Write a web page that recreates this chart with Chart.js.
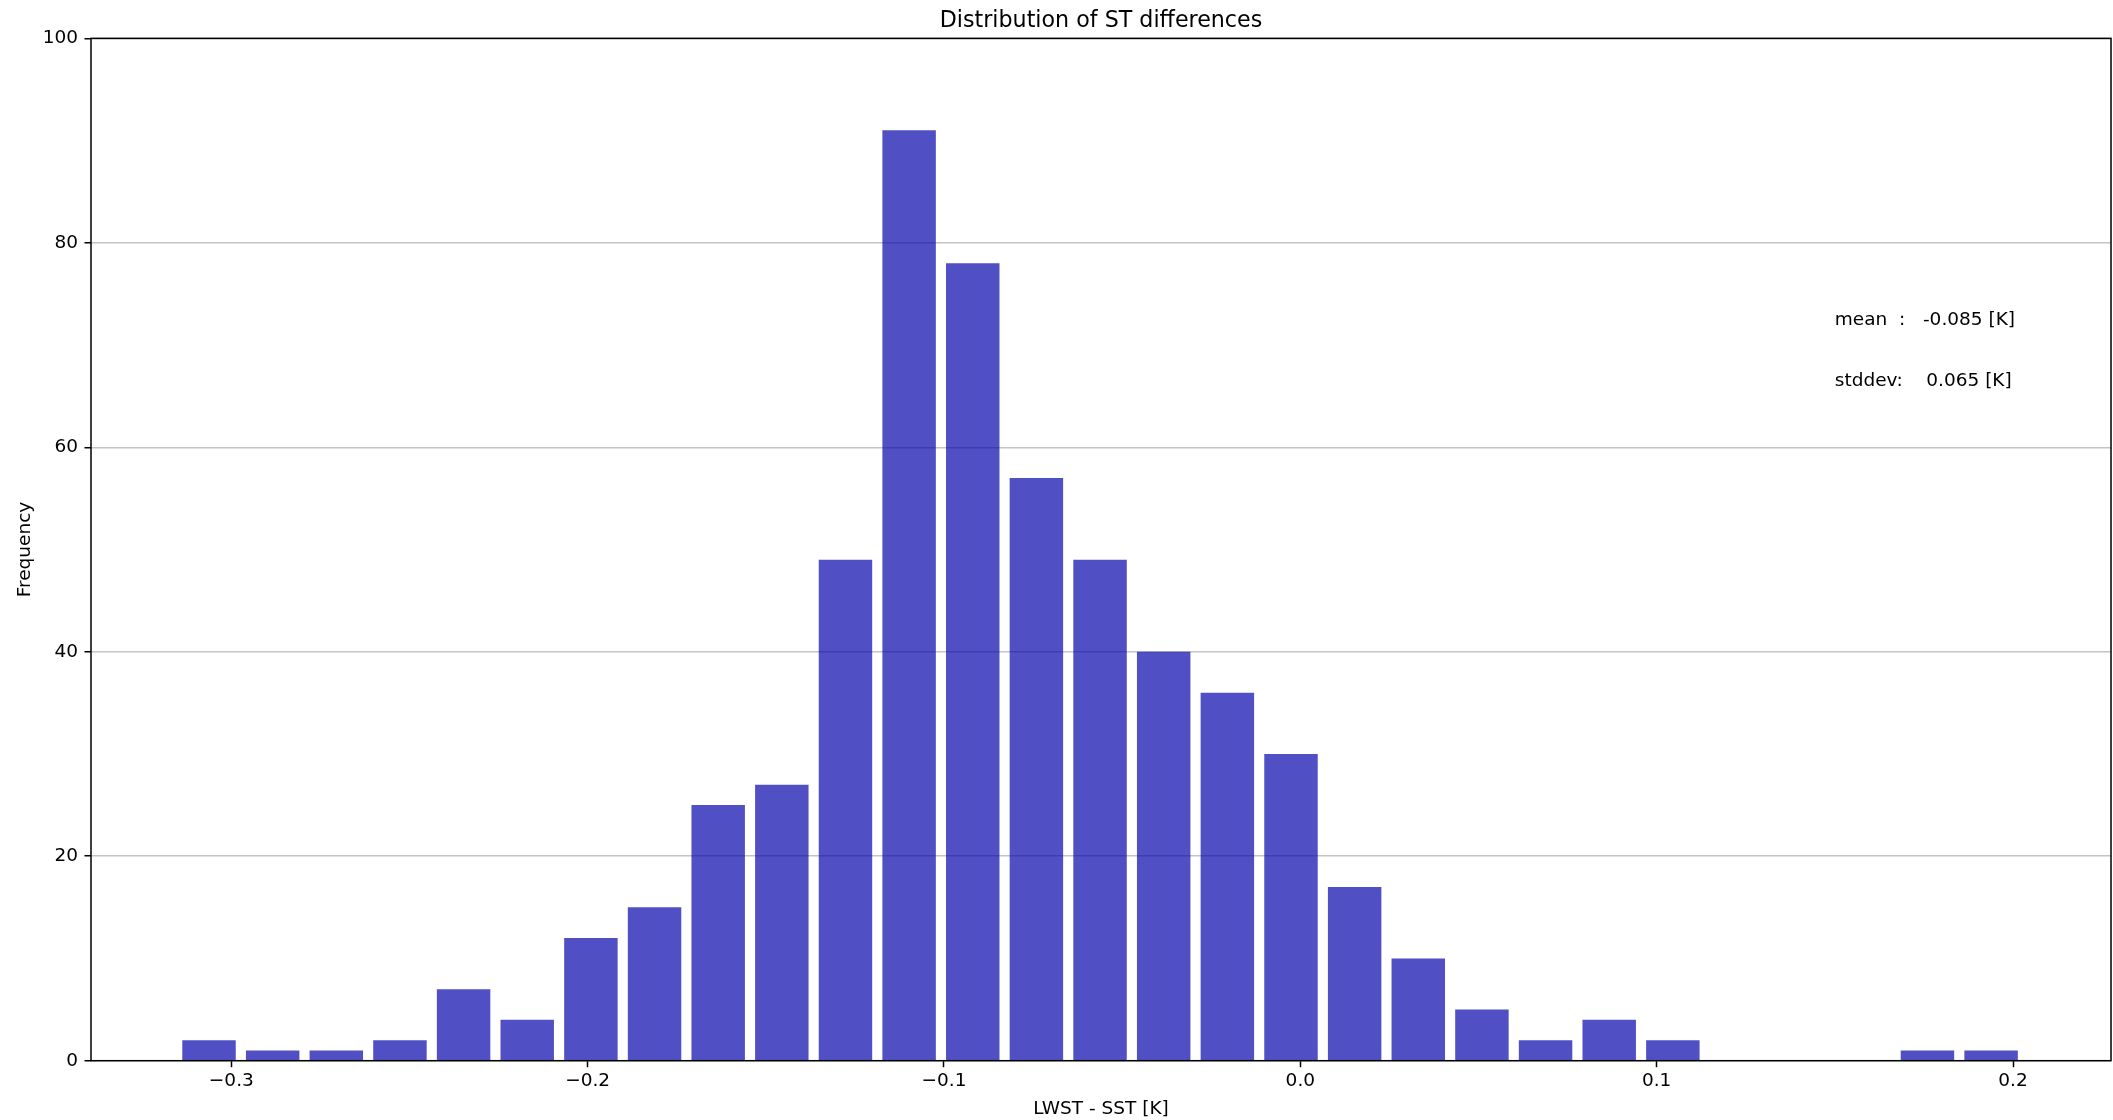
<!DOCTYPE html>
<html>
<head>
<meta charset="utf-8">
<title>Distribution of ST differences</title>
<script src="https://cdn.jsdelivr.net/npm/chart.js@4.4.1/dist/chart.umd.min.js"></script>
<style>
  html, body { margin:0; padding:0; background:#fff; }
  #c { display:block; }
</style>
</head>
<body>
<canvas id="c" width="2113" height="1120"></canvas>
<script>
/* Histogram of LWST - SST, rebuilt from the matplotlib figure. */

// bin centres [K] and counts per bin
const binCenters = [-0.30626, -0.28840, -0.27054, -0.25268, -0.23482, -0.21696, -0.19909, -0.18123,
                    -0.16337, -0.14551, -0.12765, -0.10979, -0.09193, -0.07407, -0.05621, -0.03835,
                    -0.02048, -0.00262, 0.01524, 0.03310, 0.05096, 0.06882, 0.08668, 0.10454,
                    0.12240, 0.14026, 0.15813, 0.17599, 0.19385];
const counts = [2, 1, 1, 2, 7, 4, 12, 15, 25, 27, 49, 91, 78, 57, 49, 40, 36, 30, 17, 10, 5, 2, 4, 2, 0, 0, 0, 1, 1];

const xTicks = [-0.3, -0.2, -0.1, 0.0, 0.1, 0.2];
const yTicks = [0, 20, 40, 60, 80, 100];

// text annotations, placed in data coordinates like plt.text()
const notes = [
  { x: 0.15, y: 72, text: "mean  :   -0.085 [K]" },
  { x: 0.15, y: 66, text: "stddev:    0.065 [K]" },
];

const FONT = "'DejaVu Sans', sans-serif";
const AREA = { left: 91, right: 2111, top: 38.3, bottom: 1060.7 };   // axes box in px

const fmtTick = v => Math.abs(v) < 1e-9 ? "0.0" : (v < 0 ? "\u2212" + (-v).toFixed(1) : v.toFixed(1));

/* ---------- plugins: axes box + annotations ---------- */
const frame = {
  id: "frame",
  afterDatasetsDraw(chart){
    const { ctx, chartArea: a, scales } = chart;
    ctx.save();
    ctx.font = "18.5px " + FONT;
    ctx.fillStyle = "#000";
    ctx.textAlign = "left";
    ctx.textBaseline = "alphabetic";
    for (const n of notes) ctx.fillText(n.text, scales.x.getPixelForValue(n.x), scales.y.getPixelForValue(n.y));
    ctx.strokeStyle = "#000";
    ctx.lineWidth = 1.5;
    ctx.strokeRect(a.left, a.top, a.right - a.left, a.bottom - a.top);
    ctx.restore();
  }
};

new Chart(document.getElementById("c"), {
  type: "bar",
  data: {
    datasets: [{
      data: binCenters.map((x, i) => ({ x, y: counts[i] })),
      backgroundColor: "rgba(5,4,170,0.7)",
      borderWidth: 0,
      inflateAmount: 0,
      barPercentage: 0.84,
      categoryPercentage: 1.0,
    }]
  },
  options: {
    responsive: false,
    animation: false,
    devicePixelRatio: 1,
    layout: { padding: { left: 0, right: 2113 - AREA.right, top: 0, bottom: 0 } },
    plugins: {
      legend: { display: false },
      tooltip: { enabled: false },
      title: {
        display: true, text: "Distribution of ST differences", fullSize: false,
        color: "#000", font: { family: FONT, size: 22.2, weight: "normal" },
        padding: { top: 8.2, bottom: 3.5 }
      }
    },
    scales: {
      x: {
        type: "linear", min: -0.33938, max: 0.2275, offset: false,
        afterBuildTicks: s => { s.ticks = xTicks.map(v => ({ value: v })); },
        afterFit: s => { s.height = 1120 - AREA.bottom; },
        grid: { display: true, drawOnChartArea: false, drawTicks: true, offset: false,
                tickLength: 6.5, tickColor: "#000", tickWidth: 1.5 },
        border: { display: false },
        ticks: { color: "#000", padding: 3, maxRotation: 0, font: { family: FONT, size: 18.5 },
                 callback: v => fmtTick(v) },
        title: { display: true, text: "LWST - SST [K]", color: "#000",
                 font: { family: FONT, size: 18.5 }, padding: { top: 0, bottom: 0 } }
      },
      y: {
        min: 0, max: 100,
        afterBuildTicks: s => { s.ticks = yTicks.map(v => ({ value: v })); },
        afterFit: s => { s.width = AREA.left; },
        grid: { color: "rgba(176,176,176,0.75)", lineWidth: 1.5, drawTicks: true,
                tickLength: 6.5, tickColor: "#000", tickWidth: 1.5 },
        border: { display: false },
        ticks: { color: "#000", padding: 6.5, font: { family: FONT, size: 18.5 } },
        title: { display: true, text: "Frequency", color: "#000",
                 font: { family: FONT, size: 18.5 }, padding: { top: 14, bottom: 0 } }
      }
    }
  },
  plugins: [frame]
});
</script>
</body>
</html>
